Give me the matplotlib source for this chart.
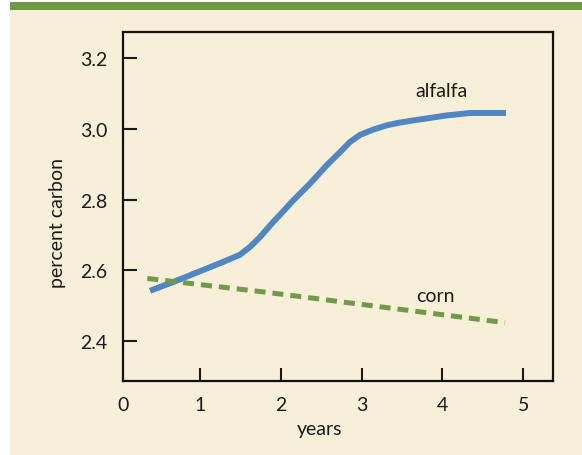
import matplotlib
matplotlib.use("Agg")
import matplotlib.pyplot as plt
from matplotlib.patches import Rectangle

plt.rcParams['font.family'] = ['Lato', 'DejaVu Sans']

# data
alfalfa_x = [0.379, 0.667, 0.874, 1.081, 1.287, 1.493, 1.617, 1.741, 1.906, 1.989, 2.154,
             2.360, 2.567, 2.732, 2.856, 2.980, 3.144, 3.310, 3.454, 3.640, 4.053, 4.342, 4.788]
alfalfa_y = [2.542, 2.567, 2.586, 2.605, 2.624, 2.644, 2.666, 2.694, 2.737, 2.757, 2.798,
             2.845, 2.897, 2.934, 2.963, 2.983, 2.998, 3.010, 3.017, 3.024, 3.038, 3.045, 3.045]
corn_x = [0.346, 1.782, 4.775]
corn_y = [2.577, 2.539, 2.452]
x_ticks = [1, 2, 3, 4, 5]
x_origin_label = "0"
y_ticks = [2.4, 2.6, 2.8, 3.0, 3.2]
y_tick_labels = ["2.4", "2.6", "2.8", "3.0", "3.2"]

W, H = 582, 456
fig = plt.figure(figsize=(W / 100, H / 100), dpi=100, facecolor='white')
bg = fig.add_axes([0, 0, 1, 1], zorder=-10)
bg.set_xlim(0, W)
bg.set_ylim(H, 0)
bg.axis('off')
bg.add_patch(Rectangle((10, 11), W - 10, H - 11, facecolor='#f8efd9', edgecolor='none'))
bg.add_patch(Rectangle((10, 3), W - 10, 8, facecolor='#6f9a45', edgecolor='none'))

ax = fig.add_axes([123 / W, (H - 382) / H, 430 / W, 349 / H])
ax.set_facecolor('none')

ax.plot(alfalfa_x, alfalfa_y, color='#4f86c4', lw=4.3, solid_capstyle='butt', solid_joinstyle='round')
ax.plot(corn_x, corn_y, color='#6f9a48', lw=3.6, dashes=(2.2, 1.4), dash_capstyle='butt')

ax.text(3.99, 3.108, "alfalfa", fontsize=14, ha='center', va='center', color='#1a1a1a')
ax.text(3.91, 2.529, "corn", fontsize=14, ha='center', va='center', color='#1a1a1a')

ax.set_xlim(0.045, 5.37)
ax.set_ylim(2.287, 3.274)
ax.set_xticks(x_ticks)
ax.set_xticklabels([str(t) for t in x_ticks])
ax.set_yticks(y_ticks)
ax.set_yticklabels(y_tick_labels)
ax.tick_params(axis='both', direction='in', width=1.5, labelsize=14, pad=11, colors='#1a1a1a')
ax.tick_params(axis='y', length=10)
ax.tick_params(axis='x', length=9.5)
for s in ax.spines.values():
    s.set_linewidth(1.6)
    s.set_color('#111111')
ax.annotate(x_origin_label, xy=(0, 0), xycoords='axes fraction', xytext=(0, -11),
            textcoords='offset points', ha='center', va='top', fontsize=14, color='#1a1a1a')

fig.text(320 / W, 1 - 430 / H, "years", fontsize=14, ha='center', va='center', color='#1a1a1a')
fig.text(57 / W, 1 - 223 / H, "percent carbon", fontsize=14, ha='center', va='center',
         rotation=90, color='#1a1a1a')

fig.savefig("out.png", dpi=100, facecolor=fig.get_facecolor())
